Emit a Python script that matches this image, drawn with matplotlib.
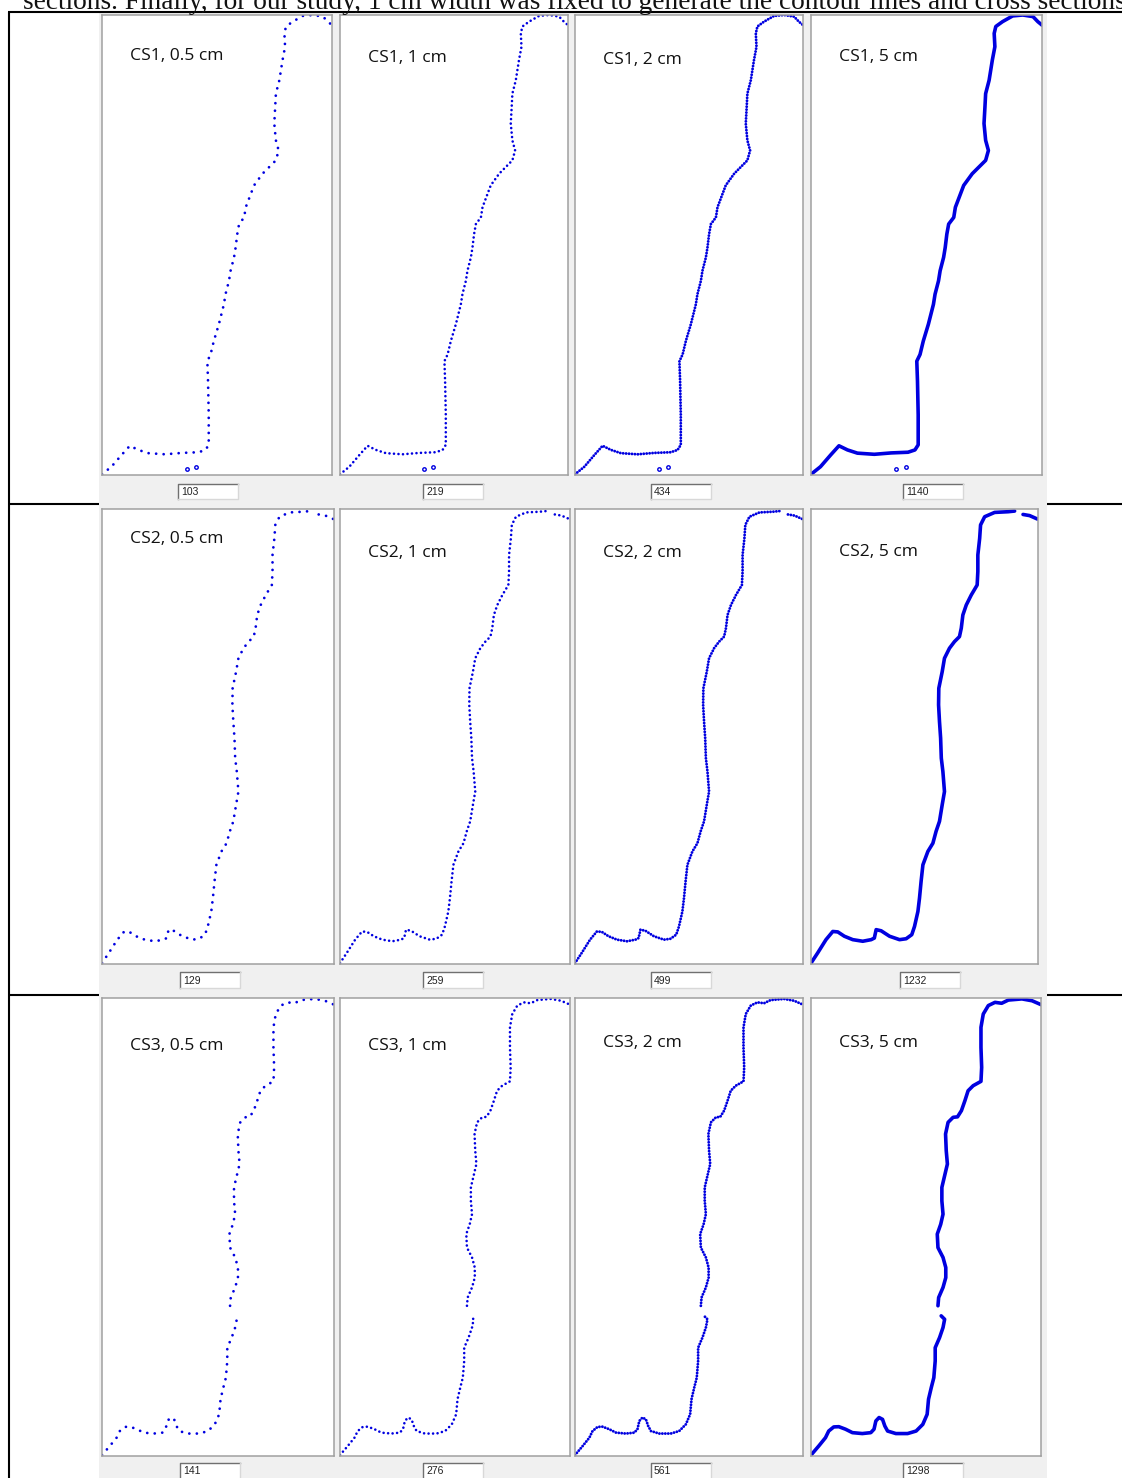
import numpy as np
import matplotlib
matplotlib.use('Agg')
import matplotlib.pyplot as plt
from matplotlib.patches import Rectangle

W, H = 1122, 1478

# ---------------- data ----------------
sections = ['CS1', 'CS2', 'CS3']
widths = ['0.5 cm', '1 cm', '2 cm', '5 cm']
point_counts = [[103, 219, 434, 1140],
                [129, 259, 499, 1232],
                [141, 276, 561, 1298]]

# profile: horizontal distance (0-100) and elevation (0-200)
cs1_x = [0.0, 4.1, 8.5, 12.1, 15.8, 20.1, 27.4, 34.7, 42.0, 45.0, 46.4, 46.4, 46.1, 45.8,
         47.2, 48.6, 50.8, 53.0, 53.7, 55.2, 55.9, 57.4, 58.1, 58.8, 59.6, 61.8, 62.5,
         64.7, 66.1, 69.8, 73.4, 75.6, 76.8, 75.6, 74.9, 75.3, 75.6, 77.1, 77.8, 78.5,
         79.6, 79.3, 80.0, 82.9, 87.3, 91.7, 96.1, 98.2, 100.0]
cs1_z = [0.3, 3.6, 8.7, 12.7, 10.9, 9.5, 9.0, 9.6, 9.9, 10.9, 13.1, 26.2, 40.7, 49.5,
         52.4, 58.2, 65.5, 74.2, 78.6, 84.4, 88.8, 94.6, 98.9, 104.7, 109.1, 112.0, 116.4,
         122.2, 125.9, 131.0, 134.6, 136.8, 141.1, 145.5, 152.8, 160.0, 165.8, 171.6, 176.0,
         180.4, 186.2, 192.0, 195.0, 197.1, 199.6, 200.0, 199.3, 197.1, 195.6]
cs1_stray_x = [36.9, 41.0]
cs1_stray_z = [2.6, 3.6]

cs2_x = [0.0, 2.9, 6.6, 9.6, 11.8, 14.7, 18.4, 22.8, 26.5, 27.9, 28.7, 30.9, 34.6, 39.0,
         41.9, 44.4, 45.6, 47.1, 47.8, 48.5, 49.3, 51.5, 53.7, 55.1, 56.6, 57.8, 58.8,
         58.1, 57.4, 57.1, 56.6, 56.2, 56.3, 57.8, 58.8, 61.0, 63.2, 65.4, 66.2, 66.9,
         68.4, 70.6, 73.2, 73.5, 73.5, 74.3, 74.7, 76.5, 80.9, 86.8, 89.7, np.nan,
         93.4, 96.3, 99.7]
cs2_z = [0.4, 4.8, 10.7, 14.3, 14.1, 12.2, 10.7, 10.0, 10.7, 11.4, 15.1, 14.6, 12.2, 10.7,
         11.1, 12.9, 16.5, 23.1, 29.0, 36.3, 43.6, 49.5, 53.1, 58.3, 62.7, 70.0, 75.8,
         84.6, 90.5, 99.3, 106.6, 113.9, 121.2, 128.5, 134.4, 138.8, 141.7, 143.9, 147.6,
         153.4, 157.8, 162.2, 166.6, 172.5, 179.8, 187.1, 193.0, 196.6, 198.5, 198.8, 199.1,
         np.nan, 197.6, 197.1, 195.6]

cs3_x = [0.0, 3.4, 6.3, 7.7, 9.9, 12.1, 15.0, 18.0, 22.3, 26.0, 27.4, 28.2, 29.6, 31.1,
         32.1, 33.3, 36.9, 42.0, 45.7, 48.6, 50.5, 51.1, 52.3, 53.4, 54.0, 54.0, 55.9,
         57.4, 58.1, 56.6, np.nan, 55.2, 55.5, 57.4, 58.6, 58.6, 57.4, 55.2, 54.9, 56.4,
         57.4, 56.9, 56.9, 58.1, 59.3, 58.8, 58.5, 59.6, 61.8, 63.7, 65.4, 66.9, 68.3,
         70.5, 73.9, 74.2, 73.9, 73.9, 74.9, 77.1, 80.0, 82.9, 85.8, 91.7, 96.1, 100.0]
cs3_z = [0.4, 4.4, 8.0, 10.9, 12.7, 12.8, 11.7, 10.2, 9.8, 10.2, 11.7, 15.3, 16.8, 16.0,
         13.1, 10.9, 9.8, 9.8, 10.9, 13.8, 18.2, 24.8, 29.9, 34.2, 41.5, 47.3, 51.7,
         56.1, 59.7, 61.2, np.nan, 65.6, 69.2, 73.6, 77.9, 82.3, 86.7, 91.0, 96.9, 101.2,
         105.6, 111.4, 117.3, 122.4, 127.5, 133.3, 140.6, 145.7, 147.9, 148.1, 150.8, 155.1,
         159.5, 161.7, 163.6, 169.7, 178.4, 187.2, 193.0, 196.7, 198.1, 197.7, 199.1, 199.6,
         198.8, 197.1]

profiles = {'CS1': (cs1_x, cs1_z), 'CS2': (cs2_x, cs2_z), 'CS3': (cs3_x, cs3_z)}

top_sentence = ("sections. Finally, for our study, 1 cm width was fixed to generate "
                "the contour lines and cross sections")

# ---------------- layout (pixels) ----------------
row_y = [(15, 475), (509, 964), (998, 1456)]
col_x = [[(102, 332), (340, 568), (575, 803), (811, 1042)],
         [(102, 334), (340, 570), (575, 803), (811, 1038)],
         [(102, 334), (340, 570), (575, 803), (811, 1041)]]
box_y = [(484, 499), (972, 988), (1463, 1479)]
box_x = [[178, 423, 651, 903], [180, 423, 651, 900], [180, 423, 651, 903]]
label_y = [[56, 58, 60, 57], [539, 553, 553, 552], [1046, 1046, 1043, 1043]]

BLUE = '#0000e0'
styles = [
    dict(lw=2.0, ls=(0, (0.01, 2.7))),
    dict(lw=1.9, ls=(0, (0.01, 1.7))),
    dict(lw=2.1, ls=(0, (0.01, 1.0))),
    dict(lw=2.6, ls='-'),
]

fig = plt.figure(figsize=(W / 100, H / 100), dpi=100)
fig.patch.set_facecolor('white')

bg = fig.add_axes([0, 0, 1, 1])
bg.set_xlim(0, W)
bg.set_ylim(H, 0)
bg.axis('off')

# table lines
bg.plot([8, W], [12, 12], color='black', lw=1.5, zorder=5, solid_capstyle='butt')
bg.plot([9, 9], [12, H], color='black', lw=1.5, zorder=1, solid_capstyle='butt')
for yy in (503.5, 994.5):
    bg.plot([9, W], [yy, yy], color='black', lw=1.5, zorder=1, solid_capstyle='butt')
# grey screenshot background
bg.add_patch(Rectangle((99, 13), 1047 - 99, H - 13, facecolor='#f0f0f0',
                       edgecolor='none', zorder=2))

# top sentence (cut at the top edge, as in the reference)
t = fig.text(23 / W, 1 - 9 / H, top_sentence, family='Liberation Serif',
             fontsize=16, va='baseline', ha='left', color='#111111')
fig.canvas.draw()
bb = t.get_window_extent()
t.set_fontsize(16 * (1104 / bb.width))

for r, cs in enumerate(sections):
    px, pz = profiles[cs]
    y0, y1 = row_y[r]
    for c, wd in enumerate(widths):
        x0, x1 = col_x[r][c]
        ax = fig.add_axes([x0 / W, 1 - y1 / H, (x1 - x0) / W, (y1 - y0) / H])
        ax.set_facecolor('white')
        ax.set_xlim(0, 100)
        ax.set_ylim(0, 200)
        ax.set_xticks([])
        ax.set_yticks([])
        for sp in ax.spines.values():
            sp.set_color('#a0a0a0')
            sp.set_linewidth(1.1)
        st = styles[c]
        ax.plot(px, pz, color=BLUE, lw=st['lw'], ls=st['ls'],
                dash_capstyle='round', solid_capstyle='round', solid_joinstyle='round')
        if cs == 'CS1':
            ax.plot(cs1_stray_x, cs1_stray_z, 'o', color=BLUE, ms=2.5, mfc='none', mew=1)
        ax.text(28 / (x1 - x0), 1 - (label_y[r][c] - y0) / (y1 - y0), f'{cs}, {wd}',
                transform=ax.transAxes, family='Open Sans', fontsize=12.6,
                va='center', ha='left', color='#111111')
        # count box
        bx = box_x[r][c]
        by0, by1 = box_y[r]
        bg.add_patch(Rectangle((bx, by0), 60, by1 - by0, facecolor='white',
                               edgecolor='none', zorder=3))
        bg.plot([bx, bx, bx + 60], [by1, by0, by0], color='#707070', lw=1.0, zorder=4)
        bg.plot([bx, bx + 60, bx + 60], [by1, by1, by0], color='#d8d8d8', lw=1.0, zorder=4)
        bg.text(bx + 3, (by0 + by1) / 2 + 0.5, str(point_counts[r][c]),
                family='Liberation Sans', fontsize=7.5, va='center', ha='left',
                color='#222222', zorder=5)

fig.savefig('out.png', dpi=100, facecolor='white')
